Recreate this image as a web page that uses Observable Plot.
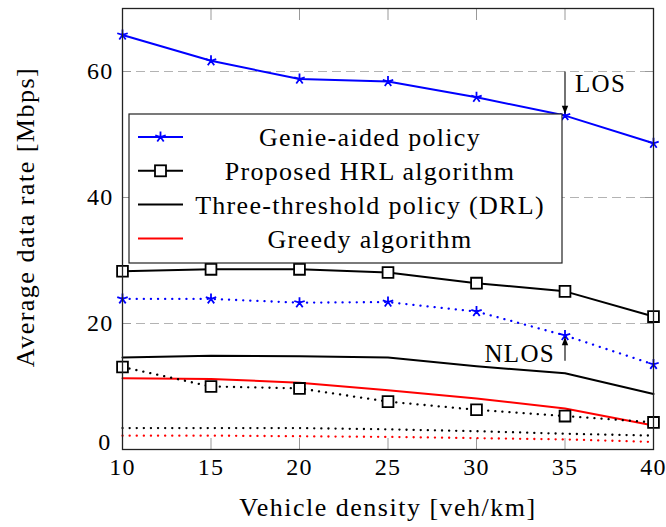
<!DOCTYPE html>
<html><head><meta charset="utf-8">
<script src="https://cdn.jsdelivr.net/npm/d3@7"></script>
<script src="https://cdn.jsdelivr.net/npm/@observablehq/plot@0.6"></script>
<style>
body{margin:0;background:#fff}
</style>
</head><body><div id="chart"></div>
<script>
const density = [10, 15, 20, 25, 30, 35, 40];
const genieLOS   = [65.8, 61.7, 58.8, 58.4, 55.9, 53.0, 48.6];
const hrlLOS     = [28.3, 28.6, 28.6, 28.1, 26.4, 25.1, 21.1];
const threshLOS  = [14.6, 14.9, 14.8, 14.6, 13.2, 12.1, 8.8];
const greedyLOS  = [11.3, 11.2, 10.6, 9.4, 8.1, 6.5, 3.8];
const genieNLOS  = [23.9, 23.9, 23.3, 23.4, 21.9, 18.1, 13.5];
const hrlNLOS    = [13.1, 10.0, 9.7, 7.6, 6.3, 5.3, 4.3];
const threshNLOS = [3.4, 3.4, 3.4, 3.2, 2.9, 2.5, 2.2];
const greedyNLOS = [2.2, 2.2, 2.1, 2.0, 1.8, 1.6, 1.2];
const xTicks = [10, 15, 20, 25, 30, 35, 40];
const yTicks = [0, 20, 40, 60];
const policies = ["Genie-aided policy", "Proposed HRL algorithm", "Three-threshold policy (DRL)", "Greedy algorithm"];
const annotations = [
  {label: "LOS",  x: 35, from: 60,   to: 53.3, side: "right"},
  {label: "NLOS", x: 35, from: 14.1, to: 17.8, side: "left"}
];

const colors = {"Genie-aided policy": "#0000ff", "Proposed HRL algorithm": "black", "Three-threshold policy (DRL)": "black", "Greedy algorithm": "#ff0000"};
const markers = {"Genie-aided policy": "star", "Proposed HRL algorithm": "square"};

const series = [
  ["Genie-aided policy", "LOS", genieLOS],
  ["Proposed HRL algorithm", "LOS", hrlLOS],
  ["Three-threshold policy (DRL)", "LOS", threshLOS],
  ["Greedy algorithm", "LOS", greedyLOS],
  ["Genie-aided policy", "NLOS", genieNLOS],
  ["Proposed HRL algorithm", "NLOS", hrlNLOS],
  ["Three-threshold policy (DRL)", "NLOS", threshNLOS],
  ["Greedy algorithm", "NLOS", greedyNLOS]
];
const rows = series.flatMap(([policy, link, vals]) => vals.map((v, i) => ({policy, link, key: policy + "|" + link, x: density[i], y: v})));

const star5 = {
  draw(context, size) {
    const r = Math.sqrt(size / Math.PI);
    for (let i = 0; i < 5; i++) {
      const a = -Math.PI / 2 + i * 2 * Math.PI / 5;
      context.moveTo(0, 0);
      context.lineTo(r * Math.cos(a), r * Math.sin(a));
    }
  }
};
const headDown = {draw(c) { c.moveTo(0, 0); c.lineTo(-3.2, -8); c.lineTo(3.2, -8); c.closePath(); }};
const headUp = {draw(c) { c.moveTo(0, 0); c.lineTo(-3.2, 8); c.lineTo(3.2, 8); c.closePath(); }};

const FONT = "Liberation Serif";
const marks = [
  Plot.ruleY(yTicks.filter(d => d > 0), {y: d => d, stroke: "#b3b3b3", strokeWidth: 1, strokeDasharray: "9,5"}),
  Plot.axisX({ticks: xTicks, anchor: "bottom", tickSize: -11, fill: "none", stroke: "#999", label: null}),
  Plot.axisX({ticks: xTicks, anchor: "top", tickSize: -11, fill: "none", stroke: "#999", label: null}),
  Plot.axisY({ticks: yTicks, anchor: "left", tickSize: -9, fill: "none", stroke: "#999", label: null}),
  Plot.axisY({ticks: yTicks, anchor: "right", tickSize: -9, fill: "none", stroke: "#999", label: null}),
  Plot.axisX({ticks: xTicks, anchor: "bottom", tickSize: 0, tickPadding: 8, fontSize: 24, tickFormat: d => String(d),
    label: "Vehicle density [veh/km]", labelAnchor: "center", labelArrow: "none", labelOffset: 66}),
  Plot.axisY({ticks: yTicks.filter(d => d > 0), anchor: "left", tickSize: 0, tickPadding: 9, fontSize: 24, tickFormat: d => String(d),
    label: "Average data rate [Mbps]", labelAnchor: "center", labelArrow: "none", labelOffset: 107}),
  Plot.axisY({ticks: yTicks.filter(d => d === 0), anchor: "left", tickSize: 0, tickPadding: 11, dy: -7, fontSize: 24, tickFormat: d => String(d), label: null}),
  Plot.line(rows.filter(d => d.link === "LOS"), {x: "x", y: "y", z: "key", stroke: d => colors[d.policy], strokeWidth: 2}),
  Plot.line(rows.filter(d => d.link === "NLOS"), {x: "x", y: "y", z: "key", stroke: d => colors[d.policy], strokeWidth: 2.3, strokeDasharray: "0.1,7", strokeLinecap: "round"}),
  Plot.dot(rows.filter(d => markers[d.policy] === "square"), {x: "x", y: "y", symbol: "square", r: 6.1, stroke: "black", fill: "white", strokeWidth: 1.8}),
  Plot.dot(rows.filter(d => markers[d.policy] === "star"), {x: "x", y: "y", symbol: star5, r: 5.5, stroke: "#0000ff", strokeWidth: 1.8}),
  Plot.frame({stroke: "#222", strokeWidth: 1.3}),
  Plot.link(annotations, {x1: "x", x2: "x", y1: "from", y2: "to", stroke: "black", strokeWidth: 1.1}),
  Plot.dot(annotations.filter(d => d.to < d.from), {x: "x", y: "to", symbol: headDown, fill: "black", stroke: "none"}),
  Plot.dot(annotations.filter(d => d.to > d.from), {x: "x", y: "to", symbol: headUp, fill: "black", stroke: "none"}),
  Plot.text(annotations.filter(d => d.side === "right"), {x: "x", y: "from", text: "label", textAnchor: "start", dx: 10, dy: 12, fontSize: 25, fill: "black"}),
  Plot.text(annotations.filter(d => d.side === "left"), {x: "x", y: d => (d.from + d.to) / 2, text: "label", textAnchor: "end", dx: -10, dy: 5, fontSize: 25, fill: "black"})
];

const chart = Plot.plot({
  width: 666, height: 527,
  marginLeft: 122, marginRight: 13, marginTop: 8, marginBottom: 78,
  style: {fontSize: "24px", fontFamily: FONT, color: "black", background: "white"},
  x: {domain: [10, 40]},
  y: {domain: [0, 70]},
  marks
});
document.getElementById("chart").appendChild(chart);

// Legend inside the plot area
const svg = d3.select(chart);
const lg = svg.append("g").attr("font-size", 26).attr("font-family", FONT);
lg.append("rect").attr("x", 129).attr("y", 114).attr("width", 433).attr("height", 149)
  .attr("fill", "white").attr("stroke", "#222").attr("stroke-width", 1.2);
policies.forEach((p, i) => {
  const cy = 137 + i * 33.8;
  lg.append("line").attr("x1", 138).attr("x2", 183).attr("y1", cy).attr("y2", cy)
    .attr("stroke", colors[p]).attr("stroke-width", 2);
  if (markers[p] === "square") {
    lg.append("rect").attr("x", 155).attr("y", cy - 5.5).attr("width", 11).attr("height", 11)
      .attr("fill", "white").attr("stroke", "black").attr("stroke-width", 1.8);
  } else if (markers[p] === "star") {
    lg.append("path").attr("transform", `translate(160.5,${cy})`)
      .attr("d", d3.symbol(star5, 5.5 * 5.5 * Math.PI)())
      .attr("stroke", colors[p]).attr("stroke-width", 1.8).attr("fill", "none");
  }
  lg.append("text").attr("x", 370).attr("y", cy).attr("dy", "0.35em").attr("text-anchor", "middle")
    .attr("fill", "black").text(p);
});
svg.selectAll("text").style("letter-spacing", "1.3px");
svg.selectAll('g[aria-label="x-axis label"] text, g[aria-label="y-axis label"] text')
  .attr("font-size", 26).style("font-size", "26px").style("letter-spacing", "1.5px");
svg.selectAll('g[aria-label="y-axis label"] text').each(function() {
  const t = this.getAttribute("transform") || "";
  this.setAttribute("transform", t + " translate(12,0)");
});
</script>
</body></html>
